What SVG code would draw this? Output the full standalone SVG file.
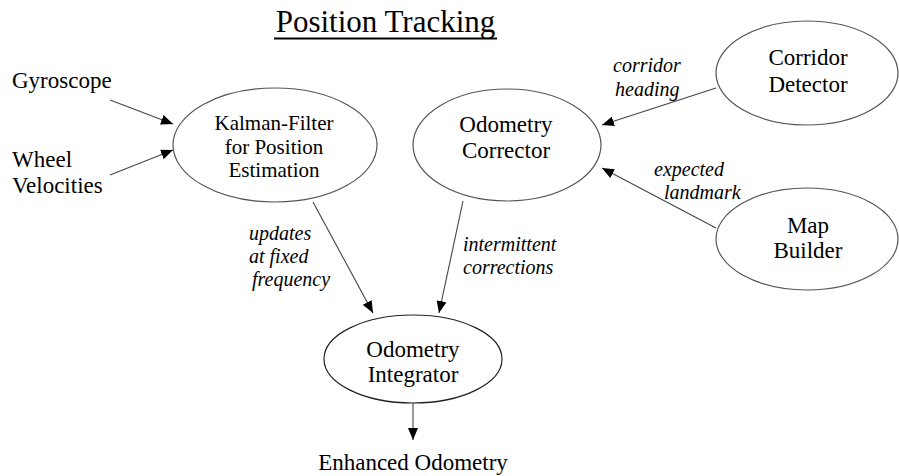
<svg xmlns="http://www.w3.org/2000/svg" width="899" height="476" viewBox="0 0 899 476">
<defs>
<marker id="ah" viewBox="0 0 12 10" refX="12" refY="5" markerWidth="12" markerHeight="10" markerUnits="userSpaceOnUse" orient="auto">
<path d="M0,0 L12,5 L0,10 Z" fill="#000"/>
</marker>
<style>
text{font-family:"Liberation Serif","Times New Roman",serif;fill:#000}
.n{font-size:23px;text-anchor:middle}
.k{font-size:21px;text-anchor:middle}
.l{font-size:23px}
.i{font-size:20px;font-style:italic}
ellipse{fill:#fff;stroke:#555;stroke-width:1.2}
.c line{stroke:#444;stroke-width:1.1;marker-end:url(#ah)}
</style>
</defs>
<rect width="899" height="476" fill="#fff"/>
<g id="title">
<text x="385.5" y="32" font-size="31" text-anchor="middle">Position Tracking</text>
<line x1="274" y1="38.5" x2="497" y2="38.5" stroke="#000" stroke-width="2"/>
</g>
<g class="c" id="connectors">
<line x1="110" y1="100" x2="173" y2="124"/>
<line x1="110" y1="175" x2="173" y2="150"/>
<line x1="313" y1="202" x2="373" y2="313"/>
<line x1="463" y1="201" x2="439" y2="313"/>
<line x1="716" y1="88" x2="602" y2="125"/>
<line x1="716" y1="228" x2="602" y2="168"/>
<line x1="413" y1="403" x2="413" y2="440"/>
</g>
<g id="gyroscope"><text class="l" x="12" y="88">Gyroscope</text></g>
<g id="wheel-velocities"><text class="l" x="12" y="167">Wheel</text><text class="l" x="12" y="193">Velocities</text></g>
<g id="kalman">
<ellipse cx="275" cy="145" rx="102" ry="57"/>
<text class="k" x="274" y="130">Kalman-Filter</text>
<text class="k" x="274" y="154">for Position</text>
<text class="k" x="274" y="177">Estimation</text>
</g>
<g id="odometry-corrector">
<ellipse cx="507" cy="145" rx="94" ry="56"/>
<text class="n" x="506" y="132">Odometry</text>
<text class="n" x="506" y="158">Corrector</text>
</g>
<g id="corridor-detector">
<ellipse cx="807" cy="73" rx="91" ry="52"/>
<text class="n" x="808" y="65">Corridor</text>
<text class="n" x="808" y="92">Detector</text>
</g>
<g id="map-builder">
<ellipse cx="807" cy="239" rx="91" ry="51"/>
<text class="n" x="808" y="233">Map</text>
<text class="n" x="808" y="258">Builder</text>
</g>
<g id="odometry-integrator">
<ellipse cx="413" cy="359" rx="89" ry="44" style="stroke:#222"/>
<text class="n" x="413" y="357">Odometry</text>
<text class="n" x="413" y="382">Integrator</text>
</g>
<g id="enhanced-odometry"><text class="n" x="413" y="470">Enhanced Odometry</text></g>
<g id="labels">
<text class="i" x="613" y="72">corridor</text>
<text class="i" x="615" y="96">heading</text>
<text class="i" x="654" y="176">expected</text>
<text class="i" x="664" y="199">landmark</text>
<text class="i" x="249" y="240">updates</text>
<text class="i" x="249" y="263">at fixed</text>
<text class="i" x="252" y="286">frequency</text>
<text class="i" x="463" y="251">intermittent</text>
<text class="i" x="463" y="274">corrections</text>
</g>
</svg>
